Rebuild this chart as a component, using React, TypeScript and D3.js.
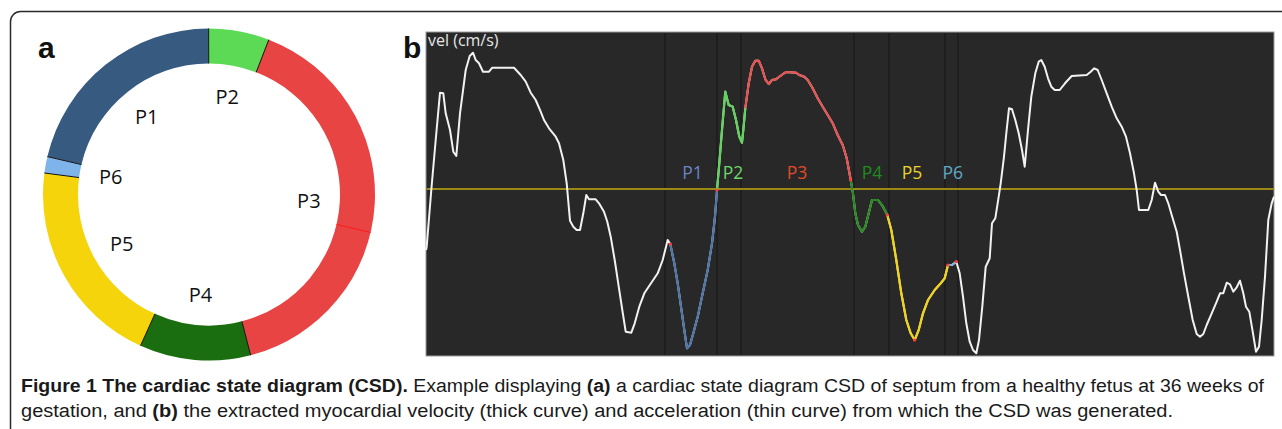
import React from "react";
import * as d3 from "d3";

// ---------- Panel a: cardiac state diagram ----------
const phaseNames = ["P1", "P2", "P3", "P4", "P5", "P6"];
const phaseShares = [21.3, 5.9, 40.1, 10.8, 20.3, 1.6]; // % of cycle
const donutColors = ["#375a80", "#5cd955", "#e84444", "#1b6e10", "#f5d40c", "#7eb4ea"];
const p3SeamShare = 22.8; // % into the cycle after P3 start where the thin seam is
const cycleStartDeg = -76.8;

// ---------- Panel b: velocity trace ----------
const velT = [
  0, 0.7, 5.3, 9.7, 14, 17.3, 19.7, 24, 27.3, 30.3, 34, 39.7, 43.7, 47, 49.7, 53, 57, 63, 66.3, 88,
  94.7, 99.7, 104.7, 109.7, 114.7, 118, 123, 129.7, 133, 137.3, 140.7, 144, 147.3, 150.7, 154, 157.3, 160.3, 163, 169.7, 173,
  178, 181.3, 184.7, 188.7, 193, 196.3, 199.7, 205.3, 208.7, 213.3, 218.3, 225, 231.7, 236.7, 241.7, 244.3, 248.3, 251.7, 255, 258.3,
  261, 264, 267.3, 271.7, 276.7, 281.7, 286, 289, 291, 293.3, 296, 299.3, 302.7, 306.7, 310, 313.3, 316, 317.3, 319.3, 322.7,
  326, 329.3, 332.7, 336, 339.3, 342.7, 346, 350, 353.3, 356.7, 360, 370, 373.3, 378.3, 381.7, 386.7, 391.7, 396.7, 401.7, 406.7,
  411.7, 416.7, 420.7, 424.7, 427, 429.3, 432, 436, 439.3, 442.7, 446, 452, 457, 461.3, 465.3, 470.3, 475.3, 480.3, 484.7, 488.7,
  492.7, 497, 502, 508.7, 514.7, 518.7, 522, 526, 530.3, 533.7, 537, 540.3, 543.7, 547, 550.3, 553, 556.3, 559.7, 563.7, 566,
  569.3, 572.7, 574.7, 578, 580.3, 583, 586, 589.3, 592.7, 596, 598.7, 602, 605.3, 609.3, 612.7, 615.3, 618.7, 622, 625.3, 628.7,
  633.7, 639, 645.7, 660.7, 664.7, 668.3, 671.7, 675.7, 680.7, 685.7, 690.7, 695.7, 700, 704, 708, 710.7, 713, 722.3, 725.7, 729,
  732.3, 735, 739, 742.3, 745.7, 750.7, 754, 758, 762.3, 766.7, 770.7, 774, 777.3, 780.7, 785.7, 790.7, 794, 797.3, 800.7, 804,
  807.3, 810.7, 814, 817.3, 820, 823.3, 826.7, 830, 833, 835.7, 839, 842.3, 845.7, 848,
];
const velV = [
  -6.1, -5.77, -0.1, 4.9, 9.63, 9.57, 7.57, 5.9, 3.73, 3.3, 7.57, 11.9, 13.3, 13.63, 12.9, 12.57, 11.73, 11.73, 12.13, 12.13,
  11.4, 10.73, 9.63, 8.9, 7.73, 6.9, 6.07, 5.23, 4.57, 2.9, 0.57, -3.17, -3.77, -4.1, -4.1, -2.43, -0.6, -1.03, -1.03, -1.43,
  -2.27, -3.27, -4.77, -7.1, -9.93, -12.1, -14.27, -14.37, -13.43, -11.77, -10.43, -9.43, -8.43, -7.1, -5.1, -5.5, -7.43, -9.43, -11.77, -14.1,
  -15.93, -15.6, -14.43, -12.77, -10.43, -8.1, -5.43, -2.77, -0.1, 2.57, 5.9, 9.73, 8.4, 8.23, 6.9, 5.23, 4.63, 5.9, 8.07, 10.57,
  12.23, 12.83, 12.83, 12.07, 10.97, 10.5, 10.9, 10.97, 11.23, 11.47, 11.7, 11.63, 11.4, 11.23, 10.9, 10.07, 9.07, 8.23, 7.4, 6.57,
  5.4, 4.4, 3.07, 0.9, -0.43, -2.43, -3.6, -4.27, -3.77, -2.43, -1.1, -1.1, -1.77, -2.6, -4.1, -7.1, -10.43, -13.1, -14.43, -15.1,
  -14.1, -12.43, -11.1, -10.1, -9.43, -8.93, -7.6, -7.6, -7.27, -8.43, -10.77, -13.43, -15.27, -16.1, -16.43, -15.1, -11.77, -7.77, -6.93, -3.43,
  -2.93, -0.77, 0.57, 3.23, 5.57, 8.07, 7.97, 6.9, 5.57, 3.9, 2.23, 5.9, 9.23, 11.57, 12.73, 12.9, 12.23, 11.07, 10.23, 9.9,
  9.9, 10.57, 11.3, 11.4, 11.73, 12.07, 11.9, 10.9, 9.57, 8.23, 7.07, 6.23, 5.23, 3.57, 1.57, -0.1, -2.1, -2.1, -1.1, 0.63,
  -0.27, -0.6, -0.6, -1.43, -2.6, -4.27, -6.1, -8.43, -10.77, -13.1, -14.5, -14.77, -14.5, -13.6, -12.43, -11.27, -10.43, -10.43, -9.37, -9.53,
  -10.27, -9.83, -9.17, -10.43, -11.77, -12.27, -14.27, -16.27, -15.77, -13.1, -8.77, -3.1, -1.43, -0.77,
];
// phase segments on the trace (start, end in time units)
const tracePhaseStart = [244.3, 291, 319.3, 424.7, 461.3, 522];
const tracePhaseEnd = [291, 319.3, 424.7, 461.3, 522, 530.3];
const traceColors = ["#4f74a8", "#5fd35c", "#e65252", "#2a8a22", "#f1d318", "#79b6e0"];
const labelColors = ["#6b84c4", "#6fd46a", "#e04a2a", "#1f8a1f", "#e8d330", "#5fa9c9"];
const labelT = [266.5, 307, 371, 446, 486, 526.7];
const markerT = [239, 291, 315, 428, 463, 519, 532];
const eventDotT = [244.3, 291, 424.7, 461.3, 488.7, 522, 530.3];

const captionLine1 = [
  { t: "Figure 1 The cardiac state diagram (CSD).", b: true },
  { t: " Example displaying ", b: false },
  { t: "(a)", b: true },
  { t: " a cardiac state diagram CSD of septum from a healthy fetus at 36 weeks of", b: false },
];
const captionLine2 = [
  { t: "gestation, and ", b: false },
  { t: "(b)", b: true },
  { t: " the extracted myocardial velocity (thick curve) and acceleration (thin curve) from which the CSD was generated.", b: false },
];

export default function App() {
  const W = 1282, H = 429;
  // donut
  const cx = 209, cy = 194.5, rOut = 166, rIn = 131;
  const start = (cycleStartDeg * Math.PI) / 180;
  const pie = d3.pie<number>().sort(null).value((d) => d).startAngle(start).endAngle(start + 2 * Math.PI);
  const arcs = pie(phaseShares);
  const arcGen = d3.arc<d3.PieArcDatum<number>>().innerRadius(rIn).outerRadius(rOut);
  const angScale = d3.scaleLinear().domain([0, 100]).range([start, start + 2 * Math.PI]);
  const radial = (a: number, r: number) => [cx + r * Math.sin(a), cy - r * Math.cos(a)];
  const p3Start = d3.sum(phaseShares.slice(0, 2));
  const seamA = angScale(p3Start + p3SeamShare);

  // trace
  const x = d3.scaleLinear().domain([0, 848]).range([426, 1274]);
  const y = d3.scaleLinear().domain([15.7, -16.7]).range([32, 356]);
  const pts = velT.map((t, i) => [t, velV[i]] as [number, number]);
  const line = d3.line<[number, number]>().x((d) => x(d[0])).y((d) => y(d[1]));
  const vAt = (t: number) => {
    const i = velT.findIndex((d) => Math.abs(d - t) < 0.01);
    return i >= 0 ? velV[i] : 0;
  };

  return (
    <svg width={W} height={H} style={{ position: "absolute", left: 0, top: 0, background: "#fff" }}>
      <rect x={10.5} y={11.5} width={1320} height={460} rx={10} fill="none" stroke="#2a2a2a" strokeWidth={1.5} />
      {/* panel a */}
      <text x={38} y={58} fontFamily="'Liberation Sans', Arial, sans-serif" fontWeight="bold" fontSize={30} fill="#111">a</text>
      <g>
        {arcs.map((a, i) => (
          <path key={i} d={arcGen(a) || ""} transform={`translate(${cx},${cy})`} fill={donutColors[i]} />
        ))}
        {arcs.map((a, i) => {
          const [x1, y1] = radial(a.startAngle, rIn);
          const [x2, y2] = radial(a.startAngle, rOut);
          return <line key={"b" + i} x1={x1} y1={y1} x2={x2} y2={y2} stroke="#111" strokeWidth={1} />;
        })}
        {(() => {
          const [x1, y1] = radial(seamA, rIn);
          const [x2, y2] = radial(seamA, rOut);
          return <line x1={x1} y1={y1} x2={x2} y2={y2} stroke="#ff1a1a" strokeWidth={1} />;
        })()}
        {arcs.map((a, i) => {
          const m = (a.startAngle + a.endAngle) / 2;
          const [lx, ly] = radial(m, 100);
          return (
            <text key={"l" + i} x={lx} y={ly} textAnchor="middle" dominantBaseline="central"
              fontFamily="'Open Sans', 'Noto Sans', sans-serif" fontSize={20} fill="#111">{phaseNames[i]}</text>
          );
        })}
      </g>

      {/* panel b */}
      <text x={403} y={58} fontFamily="'Liberation Sans', Arial, sans-serif" fontWeight="bold" fontSize={30} fill="#111">b</text>
      <rect x={426} y={32} width={848} height={324} fill="#282828" stroke="#9a9a9a" strokeWidth={1} />
      {markerT.map((t, i) => (
        <line key={"m" + i} x1={x(t)} x2={x(t)} y1={33} y2={355} stroke="#141414" strokeWidth={1} />
      ))}
      <line x1={426.5} x2={1273.5} y1={y(0)} y2={y(0)} stroke="#9c8814" strokeWidth={2} />
      <text x={428} y={46} fontFamily="'Open Sans', 'Noto Sans', sans-serif" fontSize={16} fill="#e6e6e6">vel (cm/s)</text>
      <path d={line(pts) || ""} fill="none" stroke="#f2f2f2" strokeWidth={2} strokeLinejoin="round" />
      {tracePhaseStart.map((s, i) => {
        const seg = pts.filter((p) => p[0] >= s - 0.01 && p[0] <= tracePhaseEnd[i] + 0.01);
        return <path key={"s" + i} d={line(seg) || ""} fill="none" stroke={traceColors[i]} strokeWidth={2.2} strokeLinejoin="round" />;
      })}
      {eventDotT.map((t, i) => (
        <circle key={"d" + i} cx={x(t)} cy={y(vAt(t))} r={1.6} fill="#ff3b3b" />
      ))}
      {labelT.map((t, i) => (
        <text key={"pl" + i} x={x(t)} y={y(0) - 10} textAnchor="middle"
          fontFamily="'Open Sans', 'Noto Sans', sans-serif" fontSize={17.5} fill={labelColors[i]}>{phaseNames[i]}</text>
      ))}

      {/* caption */}
      <text x={21} y={392} fontFamily="'Liberation Sans Narrow', 'Liberation Sans', Arial, sans-serif" fontSize={18} fill="#1a1a1a"
        textLength={1243} lengthAdjust="spacingAndGlyphs">
        {captionLine1.map((s, i) => (
          <tspan key={i} fontWeight={s.b ? "bold" : "normal"}>{s.t}</tspan>
        ))}
      </text>
      <text x={21} y={417} fontFamily="'Liberation Sans Narrow', 'Liberation Sans', Arial, sans-serif" fontSize={18} fill="#1a1a1a"
        textLength={1152} lengthAdjust="spacingAndGlyphs">
        {captionLine2.map((s, i) => (
          <tspan key={i} fontWeight={s.b ? "bold" : "normal"}>{s.t}</tspan>
        ))}
      </text>
    </svg>
  );
}
